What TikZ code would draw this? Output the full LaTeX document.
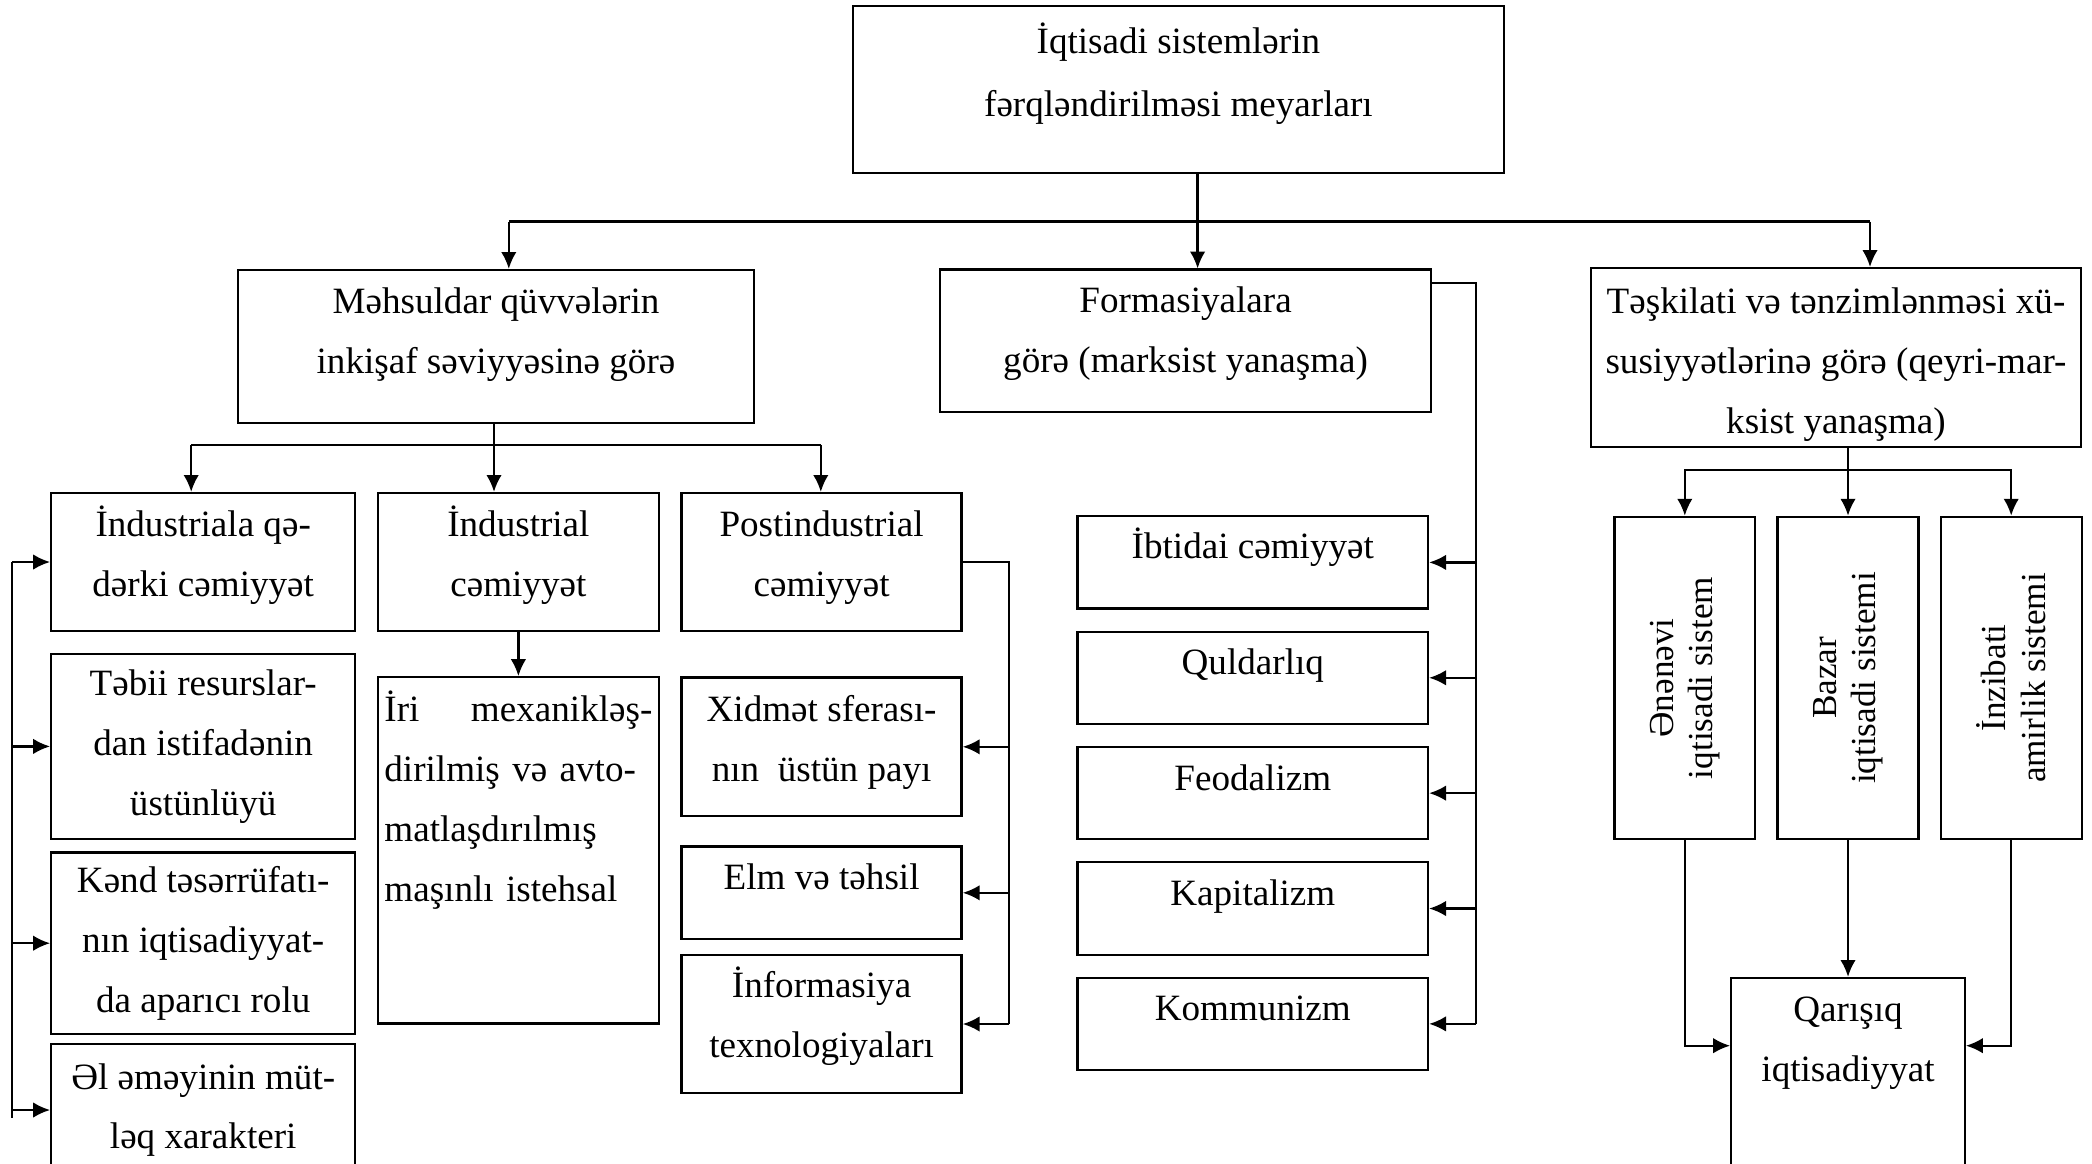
\documentclass[tikz,border=0pt]{standalone}
\usepackage{fontspec}
\setmainfont{Liberation Serif}
\usepackage{graphicx}
\usetikzlibrary{arrows.meta,positioning}
\newcommand{\lift}[1]{\rule[-#1]{0pt}{#1}}
\tikzset{
    basic/.style  = {draw, rectangle, line width=0.8pt, inner sep=2pt, align=center,
                     font=\fontsize{13.2}{21.3}\selectfont},
    box/.style 2 args = {basic, minimum width=#1, minimum height=#2},
    stage/.style  = {box={4.38cm}{1.154cm}},
    vert/.style   = {rotate=90, align=center, font=\fontsize{12.5}{14}\selectfont}
}
\begin{document}
\begin{tikzpicture}[>={Latex[length=6pt,width=5.5pt]}, line width=0.8pt]
\useasboundingbox (0,0) rectangle (26.15,-14.54);
\clip (0,0) rectangle (26.15,-14.54);
\node[box={8.14cm}{2.09cm}, font=\fontsize{13.2}{22.7}\selectfont] (crit) at (14.73,-1.12) {İqtisadi sistemlərin\\fərqləndirilməsi meyarları\lift{0.5cm}};
\node[box={6.45cm}{1.91cm}] (mehs) at (6.2,-4.33) {Məhsuldar qüvvələrin\\inkişaf səviyyəsinə görə\lift{0.4cm}};
\node[box={6.14cm}{1.78cm}] (form) at (14.82,-4.26) {Formasiyalara\\görə (marksist yanaşma)\lift{0.28cm}};
\node[box={6.125cm}{2.19cm}] (tesk) at (22.95,-4.47) {\rule{0pt}{0.5cm}Təşkilati və tənzimlənməsi xü-\\susiyyətlərinə görə (qeyri-mar-\\ksist yanaşma)};
% level 3
\node[box={3.8cm}{1.725cm}] (preind) at (2.54,-7.025) {İndustriala qə-\\dərki cəmiyyət\lift{0.28cm}};
\node[box={3.51cm}{1.725cm}] (indus) at (6.48,-7.025) {İndustrial\\cəmiyyət\lift{0.28cm}};
\node[box={3.5cm}{1.725cm}] (post) at (10.27,-7.025) {Postindustrial\\cəmiyyət\lift{0.2cm}};
\node[box={3.8cm}{2.31cm}] (tebii) at (2.54,-9.33) {Təbii resurslar-\\dan istifadənin\\üstünlüyü};
\node[box={3.8cm}{2.27cm}] (kend) at (2.54,-11.79) {Kənd təsərrüfatı-\\nın iqtisadiyyat-\\da aparıcı rolu};
\node[box={3.8cm}{1.65cm}] (el) at (2.54,-13.875) {Əl əməyinin müt-\\ləq xarakteri};
\node[box={3.51cm}{4.33cm}, align=left, text width=3.35cm] (iri) at (6.48,-10.63) {İri\hfill mexanikləş-\\dirilmiş və avto-\\matlaşdırılmış\\maşınlı istehsal\lift{1.35cm}};
\node[box={3.5cm}{1.73cm}] (xid) at (10.27,-9.335) {Xidmət sferası-\\nın\ \ üstün payı\lift{0.2cm}};
\node[box={3.5cm}{1.155cm}] (elm) at (10.27,-11.16) {Elm və təhsil\lift{0.4cm}};
\node[box={3.5cm}{1.72cm}] (inf) at (10.27,-12.8) {İnformasiya\\texnologiyaları\lift{0.3cm}};
% formasiyalar
\node[stage] (ibt) at (15.66,-7.03) {İbtidai cəmiyyət\lift{0.48cm}};
\node[stage, below=0.26cm of ibt] (qul) {Quldarlıq\lift{0.4cm}};
\node[stage, below=0.26cm of qul] (feo) {Feodalizm\lift{0.4cm}};
\node[stage, below=0.26cm of feo] (kap) {Kapitalizm\lift{0.4cm}};
\node[stage, below=0.26cm of kap] (kom) {Kommunizm\lift{0.4cm}};
% sistemler
\node[box={1.76cm}{4.03cm}, label={[vert]center:Ənənəvi\\iqtisadi sistem}] (enen) at (21.06,-8.475) {};
\node[box={1.76cm}{4.03cm}, label={[vert]center:Bazar\\iqtisadi sistemi}] (bazar) at (23.1,-8.475) {};
\node[box={1.76cm}{4.03cm}, label={[vert]center:İnzibati\\amirlik sistemi}] (inz) at (25.14,-8.475) {};
\node[box={2.92cm}{2.65cm}] (qar) at (23.1,-13.55) {Qarışıq\\iqtisadiyyat\lift{1.13cm}};

\coordinate (trunk) at (14.97,-2.77);
\coordinate (busl) at (6.36,-2.77);
\coordinate (busr) at (23.375,-2.77);
\draw (busl) -- (busr);
\draw[->] (trunk |- crit.south) -- (trunk |- form.north);
\draw[->] (busl) -- (busl |- mehs.north);
\draw[->] (busr) -- (busr |- tesk.north);

\coordinate (mb) at (6.175,-5.56);
\coordinate (mbl) at (2.39,-5.56);
\coordinate (mbr) at (10.26,-5.56);
\draw (mb |- mehs.south) -- (mb);
\draw (mbl) -- (mbr);
\draw[->] (mbl) -- (mbl |- preind.north);
\draw[->] (mb) -- (mb |- indus.north);
\draw[->] (mbr) -- (mbr |- post.north);
\draw[->] (indus) -- (iri);

\coordinate (lt) at (0.15,-7.025);
\coordinate (lb) at (0.15,-13.97);
\draw (lt) -- (lb);
\foreach \n in {preind,tebii,kend,el}
    \draw[->] (\n.west -| lt) -- (\n.west);

\coordinate (pb) at (12.61,-12.8);
\draw (post.east) -| (pb);
\foreach \n in {xid,elm,inf}
    \draw[->] (\n.east -| pb) -- (\n.east);

\coordinate (fb) at (18.45,-12.8);
\draw ([yshift=-0.18cm]form.north east) -| (fb);
\foreach \n in {ibt,qul,feo,kap,kom}
    \draw[->] (\n.east -| fb) -- (\n.east);

\coordinate (tb) at (23.1,-5.875);
\draw[->] (tesk.south -| bazar.north) -- (bazar.north);
\draw[<->] (enen.north) |- (tb) -| (inz.north);
\draw[->] (bazar.south) -- (qar.north);
\draw[->] (enen.south) |- ([yshift=-0.86cm]qar.north west);
\draw[->] (inz.south) |- ([yshift=-0.86cm]qar.north east);
\end{tikzpicture}
\end{document}
